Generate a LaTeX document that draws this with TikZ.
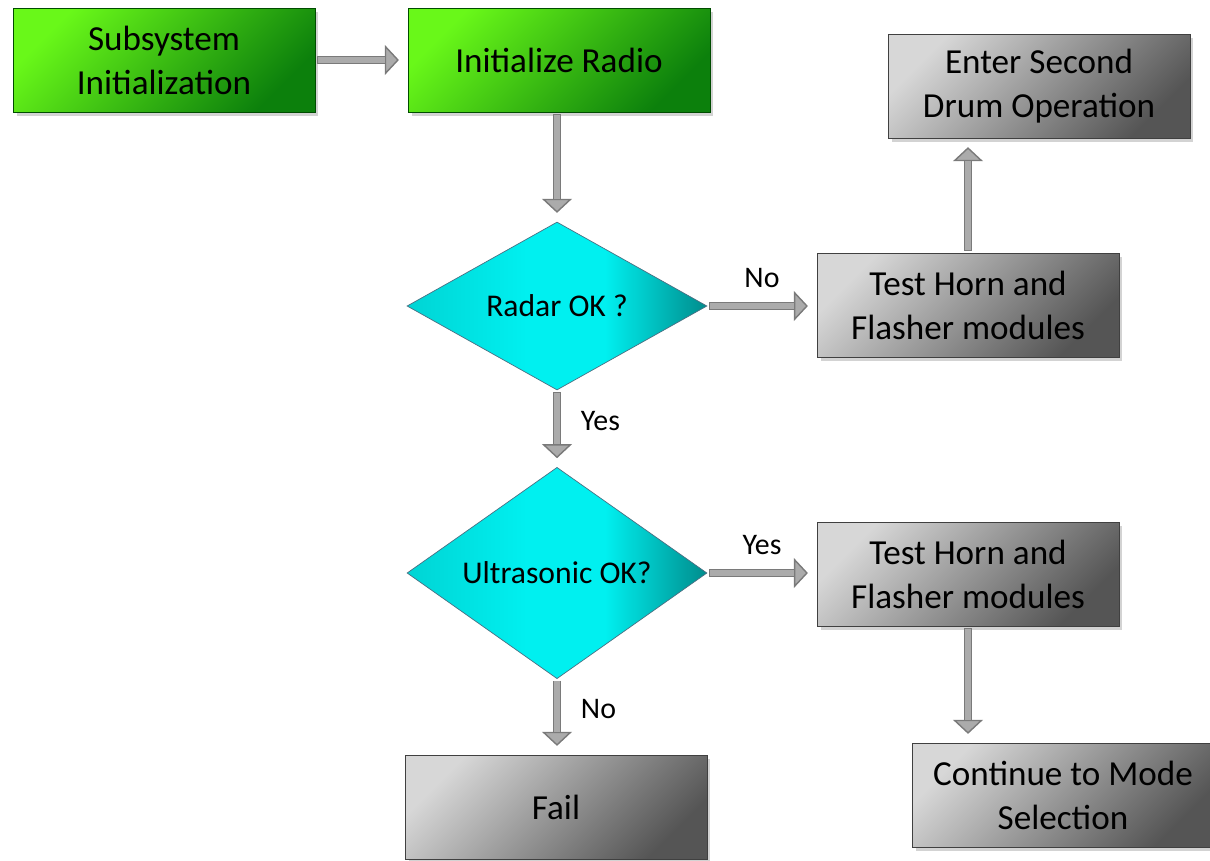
\documentclass[tikz,border=0pt]{standalone}
\usepackage{fontspec}
\setmainfont{Carlito}
\usetikzlibrary{arrows.meta, shapes.geometric, shadows}
\usepackage{xcolor}

\definecolor{greenlite}{RGB}{105,248,25}
\definecolor{greendark}{RGB}{12,128,12}
\definecolor{graylite}{RGB}{215,215,215}
\definecolor{graymid}{RGB}{160,160,160}
\definecolor{graydark}{RGB}{85,85,85}
\definecolor{cyanlite}{RGB}{0,240,240}
\definecolor{cyanmid}{RGB}{0,212,212}
\definecolor{cyandark}{RGB}{0,140,140}

\pgfdeclarehorizontalshading{cyanshade}{100bp}{color(0bp)=(cyanmid); color(25bp)=(cyanmid);
  color(45bp)=(cyanlite); color(58bp)=(cyanlite); color(75bp)=(cyandark); color(100bp)=(cyandark)}

\tikzset{
  box/.style={rectangle, minimum width=6.04cm, minimum height=2.08cm, align=center,
    font=\fontsize{20}{25}\selectfont,
    drop shadow={shadow xshift=2pt, shadow yshift=-2pt, opacity=.35}},
  greenbox/.style={box, draw=green!30!black, top color=greenlite, bottom color=greendark, shading angle=45},
  graybox/.style={box, draw=black!75, top color=graylite, middle color=graymid, bottom color=graydark, shading angle=45},
  decision/.style={diamond, minimum width=6cm, minimum height=3.36cm, inner sep=0pt,
    draw=cyan!45!black, shading=cyanshade,
    font=\fontsize{18}{22}\selectfont},
  flow/.style={draw=black!52, line width=4.6pt, shorten >=5pt, shorten <=1pt,
    -{Triangle[length=8pt, width=17pt, fill=black!33, line width=0.8pt]},
    postaction={draw=black!33, line width=3pt, arrows=-, shorten >=13pt, shorten <=1.4pt}},
  flowlabel/.style={font=\fontsize{17}{20}\selectfont}
}

\begin{document}
\begin{tikzpicture}[x=0.02cm, y=-0.02cm]
    \useasboundingbox (0,0) rectangle (1210,860);

    % Start
    \node[greenbox] (sub) at (164,60) {Subsystem\\Initialization};
    \node[greenbox] (radio) at (559,60) {Initialize Radio};

    % Decisions
    \node[decision] (radar) at (557,306) {Radar OK ?};
    \node[decision] (ultra) at (557,573) {Ultrasonic OK?};

    % Results
    \node[graybox] (horn1) at (968,305) {Test Horn and\\Flasher modules};
    \node[graybox] (enter) at (1039,86) {Enter Second\\Drum Operation};
    \node[graybox] (horn2) at (968,574) {Test Horn and\\Flasher modules};
    \node[graybox] (cont) at (1063,795) {Continue to Mode\\Selection};
    \node[graybox] (fail) at (556,807) {Fail};

    % Connectors
    \draw[flow] (sub) -- (radio);
    \draw[flow] (radio.south -| radar.north) -- (radar.north);
    \draw[flow] (radar.east) -- node[flowlabel, above=5pt] {No} (radar.east -| horn1.west);
    \draw[flow] (horn1.north) -- (horn1.north |- enter.south);
    \draw[flow] (radar.south) -- node[flowlabel, right=8pt, pos=0.4] {Yes} (ultra.north);
    \draw[flow] (ultra.east) -- node[flowlabel, above=5pt] {Yes} (ultra.east -| horn2.west);
    \draw[flow] (horn2.south) -- (horn2.south |- cont.north);
    \draw[flow] (ultra.south) -- node[flowlabel, right=8pt, pos=0.4] {No} (ultra.south |- fail.north);
\end{tikzpicture}
\end{document}
